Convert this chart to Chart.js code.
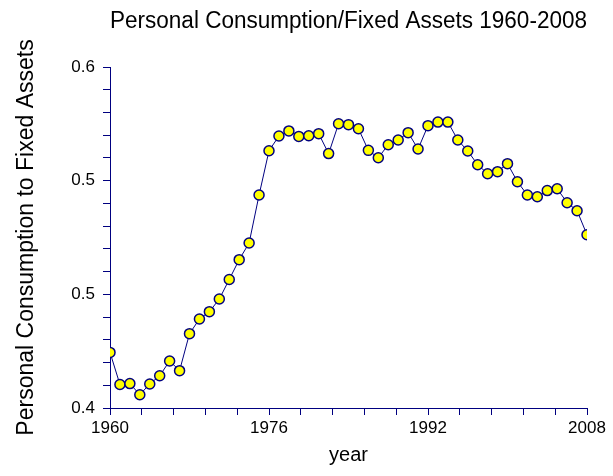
<!DOCTYPE html>
<html>
<head>
<meta charset="utf-8">
<script src="https://cdn.jsdelivr.net/npm/chart.js@4"></script>
<style>
html,body{margin:0;padding:0;background:#fff;}
#wrap{width:613px;height:476px;}
</style>
</head>
<body>
<div id="wrap"><canvas id="c" width="613" height="476"></canvas></div>
<script>
const years = [1960,1961,1962,1963,1964,1965,1966,1967,1968,1969,1970,1971,1972,1973,1974,1975,1976,1977,1978,1979,1980,1981,1982,1983,1984,1985,1986,1987,1988,1989,1990,1991,1992,1993,1994,1995,1996,1997,1998,1999,2000,2001,2002,2003,2004,2005,2006,2007,2008];
const ratio = [0.4326,0.4138,0.4143,0.4078,0.4141,0.4189,0.4276,0.4219,0.4436,0.4522,0.4565,0.4639,0.4754,0.4870,0.4968,0.5249,0.5509,0.5595,0.5625,0.5593,0.5597,0.5609,0.5492,0.5667,0.5662,0.5638,0.5511,0.5468,0.5544,0.5572,0.5615,0.5519,0.5656,0.5677,0.5677,0.5572,0.5507,0.5427,0.5374,0.5386,0.5433,0.5327,0.5249,0.5239,0.5275,0.5286,0.5204,0.5157,0.5016];
const xMin = 1960, xMax = 2008, xIntervals = 15, xLabelEvery = 5;
const yMin = 0.4, yMax = 0.6, yIntervals = 15, yLabelEvery = 5;

const navy = '#000080';
const FONT = 'Liberation Sans, Arial, sans-serif';
const data = years.map((y,i)=>({x:y, y:ratio[i]}));

const centerTitle = {
  id: 'centerTitle',
  afterLayout(chart) {
    const tb = chart.titleBlock;
    if (tb) {
      tb.left = chart.chartArea.left;
      tb.right = chart.chartArea.right;
      tb.width = tb.right - tb.left;
    }
  }
};

new Chart(document.getElementById('c'), {
  type: 'line',
  data: { datasets: [{
    data: data,
    borderColor: navy,
    borderWidth: 1,
    backgroundColor: '#FFFF00',
    pointBackgroundColor: '#FFFF00',
    pointBorderColor: navy,
    pointBorderWidth: 1.5,
    pointRadius: 5,
    tension: 0,
    fill: false
  }]},
  plugins: [centerTitle],
  options: {
    responsive: false,
    animation: false,
    devicePixelRatio: 1,
    layout: { padding: { left: 0, right: 26, top: 0, bottom: 0 } },
    plugins: {
      legend: { display: false },
      tooltip: { enabled: false },
      title: {
        display: true,
        text: 'Personal Consumption/Fixed Assets 1960-2008',
        color: '#000',
        font: { family: FONT, size: 23, weight: 'normal' },
        padding: { top: 8, bottom: 31.4 }
      }
    },
    scales: {
      x: {
        type: 'linear',
        min: xMin, max: xMax,
        afterBuildTicks: (s) => {
          const t = [];
          for (let i = 0; i <= xIntervals; i++) t.push({ value: xMin + (xMax - xMin) * i / xIntervals });
          s.ticks = t;
        },
        afterFit: (s) => { s.height = 68; },
        border: { display: true, color: navy, width: 1 },
        grid: { display: true, drawOnChartArea: false, drawTicks: true, tickLength: 7, color: navy, tickColor: navy, tickWidth: 1 },
        ticks: {
          autoSkip: false, maxRotation: 0,
          color: '#000', padding: 3,
          font: { family: FONT, size: 17 },
          callback: (v, i) => (i % xLabelEvery === 0 ? String(Math.round(v)) : '')
        },
        title: {
          display: true, text: 'year', color: '#000',
          font: { family: FONT, size: 20 },
          padding: { top: 0, bottom: 9 }
        }
      },
      y: {
        type: 'linear',
        min: yMin, max: yMax,
        afterBuildTicks: (s) => {
          const t = [];
          for (let i = 0; i <= yIntervals; i++) t.push({ value: yMin + (yMax - yMin) * i / yIntervals });
          s.ticks = t;
        },
        afterFit: (s) => { s.width = 110; },
        border: { display: true, color: navy, width: 1 },
        grid: { display: true, drawOnChartArea: false, drawTicks: true, tickLength: 7, color: navy, tickColor: navy, tickWidth: 1 },
        ticks: {
          autoSkip: false,
          color: '#000', padding: 8,
          font: { family: FONT, size: 17 },
          callback: (v, i) => (i % yLabelEvery === 0 ? v.toFixed(1) : '')
        },
        title: {
          display: true, text: 'Personal Consumption to Fixed Assets', color: '#000',
          font: { family: FONT, size: 23 },
          padding: { top: 13, bottom: 0 }
        }
      }
    }
  }
});
</script>
</body>
</html>
